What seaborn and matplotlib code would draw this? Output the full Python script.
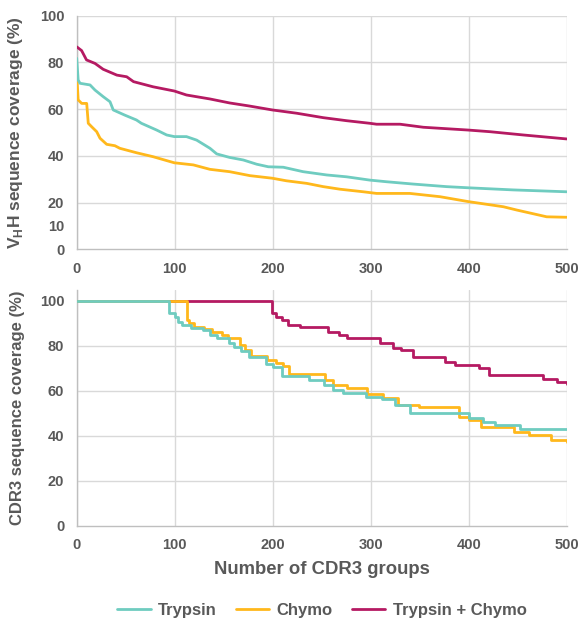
import matplotlib
matplotlib.use("Agg")
import matplotlib.pyplot as plt
import seaborn as sns
import pandas as pd
from matplotlib.lines import Line2D

# ---------------- data ----------------
series_names = ["Trypsin", "Chymo", "Trypsin + Chymo"]
series_colors = ["#6FCCC0", "#FFB81C", "#B51A62"]

# Top panel: VHH sequence coverage (%)
vhh_trypsin_x = [0, 1.5, 3.4, 13.6, 18.7, 27, 34, 37.3, 49, 61, 66, 81.6, 91.8, 99.6, 112, 122.4,
                 136, 142.9, 156, 170, 183.6, 195.5, 210.8, 231, 255, 275.5, 299, 316, 343.5,
                 377.5, 400, 445.5, 500]
vhh_trypsin_y = [81.7, 72.4, 71, 70.3, 68.1, 65.3, 63.1, 59.6, 57.4, 55.3, 53.9, 51, 48.9, 48.2, 48.2, 46.7,
                 43.2, 40.8, 39.3, 38.2, 36.4, 35.3, 35.1, 33.2, 31.8, 31, 29.6, 28.9, 27.9,
                 26.8, 26.3, 25.4, 24.6]

vhh_chymo_x = [0, 1.5, 5.1, 10.2, 11.8, 15.3, 20.4, 23.8, 30.6, 39, 44, 61, 78, 99.6, 119, 136, 156,
               176.8, 199.6, 214, 234.7, 251.6, 268.7, 292.5, 306, 340, 370.7, 399.6, 435.4, 449,
               479.6, 500]
vhh_chymo_y = [75.3, 63.9, 62.4, 62.4, 53.9, 52.4, 50.3, 47.5, 44.9, 44.3, 43.2, 41.3, 39.6, 37, 36.1, 34.2, 33.2,
               31.5, 30.4, 29.3, 28.2, 26.8, 25.7, 24.6, 23.9, 23.9, 22.5, 20.4, 18.2, 16.8,
               13.9, 13.7]

vhh_both_x = [0, 5, 10, 18.7, 27, 41, 51, 58, 78, 99.6, 112, 136, 156, 176, 199.6, 224.5, 251.6,
              275.5, 299, 306, 330, 353.7, 399.6, 421.7, 455.7, 500]
vhh_both_y = [86.6, 85, 81, 79.5, 77, 74.5, 73.8, 71.7, 69.5, 67.7, 66, 64.3, 62.6, 61.3, 59.6, 58.2, 56.3,
              55, 53.9, 53.5, 53.5, 52.2, 51, 50.3, 48.9, 47.2]

# Bottom panel: CDR3 sequence coverage (%) (step curves)
cdr3_trypsin_x = [0, 94, 100, 103, 107, 117, 129, 136, 143, 155, 160, 168, 176, 193, 200, 209, 237,
                  244, 252, 262, 272, 295, 312, 325, 340, 400, 415, 427, 452, 500]
cdr3_trypsin_y = [100, 94.4, 92.9, 90.7, 89.2, 87.7, 87, 84.8, 83.3, 81.1, 79.6, 77.8, 75.1, 71.9, 70.6, 66.7, 64.8,
                  64.8, 62.5, 60.3, 58.8, 57.3, 56.2, 53.6, 50.2, 47.7, 46.2, 44.8, 43.1, 42.8]

cdr3_chymo_x = [0, 113, 115, 120, 130, 138, 148, 154, 167, 172, 178, 194, 203, 210, 217, 253,
                262, 276, 296, 313, 328, 349, 390, 400, 413, 446, 462, 484, 500]
cdr3_chymo_y = [100, 91.4, 90, 88.4, 87.3, 86.2, 84.8, 83.3, 80.3, 78.1, 75.4, 73.6, 72.2, 71, 67.4, 64.8,
                62.5, 61.1, 58.5, 56.6, 53.6, 52.9, 48.4, 47, 44, 41.8, 40.3, 38.1, 37.3]

cdr3_both_x = [0, 199, 203, 209, 216, 228, 256, 268, 276, 309, 323, 331, 343, 376, 386, 410,
               421, 476, 490, 500]
cdr3_both_y = [100, 94.4, 92.9, 91.4, 89.2, 88.4, 86.2, 84.8, 83.6, 81.1, 78.8, 78.1, 75.1, 72.9, 71.4, 70,
               67, 65, 64, 62.8]

x_ticks = [0, 100, 200, 300, 400, 500]
top_y_ticks = [0, 10, 20, 40, 60, 80, 100]
bottom_y_ticks = [0, 20, 40, 60, 80, 100]

# ---------------- style ----------------
sns.set_style("white")
plt.rcParams["font.family"] = ["Liberation Sans", "DejaVu Sans"]
plt.rcParams["mathtext.fontset"] = "custom"
plt.rcParams["mathtext.bf"] = "Liberation Sans:bold"
plt.rcParams["mathtext.rm"] = "Liberation Sans:bold"
TXT = "#595959"
GRID = "#D9D9D9"
SPINE = "#BFBFBF"

fig = plt.figure(figsize=(5.86, 6.2), dpi=100)
ax1 = fig.add_axes([76.7 / 586, 1 - 249.3 / 620, 490 / 586, 233.8 / 620])
ax2 = fig.add_axes([76.7 / 586, 1 - 525.7 / 620, 490 / 586, 235.7 / 620])

def df_of(x, y, name):
    return pd.DataFrame({"x": x, "y": y, "series": name})

top = [(vhh_trypsin_x, vhh_trypsin_y), (vhh_chymo_x, vhh_chymo_y), (vhh_both_x, vhh_both_y)]
bot = [(cdr3_trypsin_x, cdr3_trypsin_y), (cdr3_chymo_x, cdr3_chymo_y), (cdr3_both_x, cdr3_both_y)]

for i in [2, 1, 0]:
    sns.lineplot(data=df_of(*top[i], series_names[i]), x="x", y="y", ax=ax1,
                 color=series_colors[i], linewidth=2.0, estimator=None, sort=True, zorder=3)
    sns.lineplot(data=df_of(*bot[i], series_names[i]), x="x", y="y", ax=ax2,
                 color=series_colors[i], linewidth=2.0, estimator=None, sort=True,
                 drawstyle="steps-post", zorder=3)

for ax, yt, ytop in [(ax1, top_y_ticks, 100), (ax2, bottom_y_ticks, 104.7)]:
    ax.set_xlim(0, 500)
    ax.set_ylim(0, ytop)
    ax.set_xticks(x_ticks)
    ax.set_yticks(yt)
    ax.grid(True, color=GRID, linewidth=1.0)
    ax.set_axisbelow(True)
    for s in ["top", "right"]:
        ax.spines[s].set_visible(False)
    for s in ["left", "bottom"]:
        ax.spines[s].set_color(SPINE)
        ax.spines[s].set_linewidth(1.0)
        ax.spines[s].set_zorder(2)
    ax.tick_params(length=0, labelsize=10.5, colors=TXT, pad=9)
    for lab in ax.get_xticklabels() + ax.get_yticklabels():
        lab.set_fontweight("bold")
    ax.set_xlabel("")
    ax.yaxis.set_label_coords(-0.105, 0.5)

# hide gridlines at 0 and 10 (spine at 0)
ax1.yaxis.get_gridlines()[1].set_visible(False)
ax1.yaxis.get_gridlines()[0].set_visible(False)
ax2.yaxis.get_gridlines()[0].set_visible(False)

ax1.set_ylabel(r"V$_{\mathbf{H}}$H sequence coverage (%)", fontsize=12.5,
               fontweight="bold", color=TXT)
ax2.set_ylabel("CDR3 sequence coverage (%)", fontsize=12, fontweight="bold", color=TXT)
ax2.set_xlabel("Number of CDR3 groups", fontsize=13.3, fontweight="bold", color=TXT, labelpad=6)

handles = [Line2D([], [], color=c, linewidth=2.0) for c in series_colors]
leg = fig.legend(handles, series_names, loc="center", bbox_to_anchor=(322 / 586, 1 - 610 / 620),
                 ncol=3, frameon=False, handlelength=2.0, columnspacing=1.15, handletextpad=0.45,
                 prop={"weight": "bold", "size": 12})
for t in leg.get_texts():
    t.set_color(TXT)

fig.savefig("out.png", dpi=100)
